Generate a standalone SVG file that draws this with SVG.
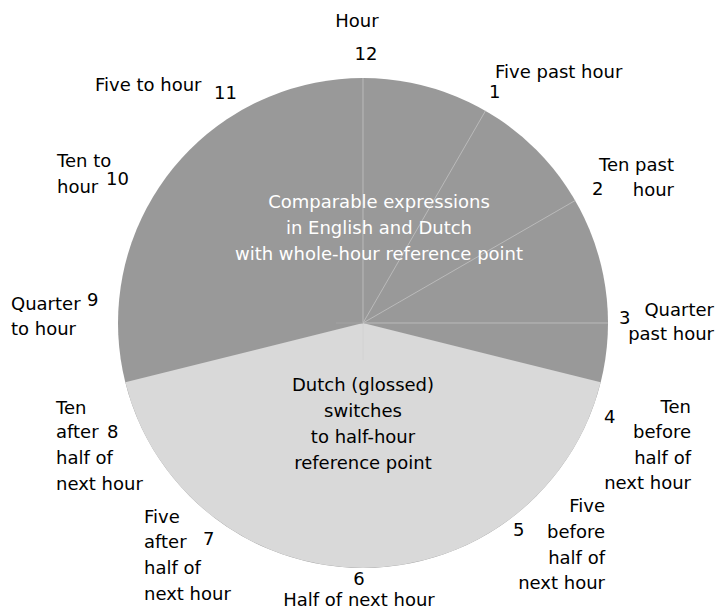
<svg xmlns="http://www.w3.org/2000/svg" width="717" height="610" viewBox="0 0 717 610">
<style>
text{font-family:"DejaVu Sans","Liberation Sans",sans-serif;font-size:18px;fill:#000}
.c{text-anchor:middle}
.r{text-anchor:end}
.w{fill:#ffffff}
.sep{stroke:#bababa;stroke-width:1;fill:none}
</style>
<rect width="717" height="610" fill="#ffffff"/>
<g id="dial">
<circle cx="363" cy="323" r="245" fill="#999999"/>
<path d="M363,323 L600.7,382.3 A245,245 0 0,1 125.3,382.3 Z" fill="#d9d9d9"/>
</g>
<g id="connectors">
<line class="sep" x1="363" y1="323" x2="363" y2="78"/>
<line class="sep" x1="363" y1="323" x2="485.5" y2="110.8"/>
<line class="sep" x1="363" y1="323" x2="575.2" y2="200.5"/>
<line class="sep" x1="363" y1="323" x2="608" y2="323"/>
<line x1="363" y1="323" x2="363" y2="360" stroke="#d2d2d2" stroke-width="1"/>
<line x1="336" y1="323" x2="363" y2="323" stroke="#a3a3a3" stroke-width="1"/>
</g>
<g id="center-upper">
<text class="c w" x="379" y="208">Comparable expressions</text>
<text class="c w" x="379" y="234">in English and Dutch</text>
<text class="c w" x="379" y="260">with whole-hour reference point</text>
</g>
<g id="center-lower">
<text class="c" x="363" y="391">Dutch (glossed)</text>
<text class="c" x="363" y="417">switches</text>
<text class="c" x="363" y="443">to half-hour</text>
<text class="c" x="363" y="469">reference point</text>
</g>
<g id="h12">
<text class="c" x="357" y="27">Hour</text>
<text class="c" x="366" y="60">12</text>
</g>
<g id="h1">
<text x="495" y="78">Five past hour</text>
<text x="489" y="98">1</text>
</g>
<g id="h2">
<text class="r" x="674" y="171">Ten past</text>
<text x="592" y="195">2</text>
<text class="r" x="674" y="196">hour</text>
</g>
<g id="h3">
<text x="619" y="324">3</text>
<text class="r" x="714" y="316">Quarter</text>
<text class="r" x="714" y="340">past hour</text>
</g>
<g id="h4">
<text x="604" y="423">4</text>
<text class="r" x="691" y="413">Ten</text>
<text class="r" x="691" y="438">before</text>
<text class="r" x="691" y="464">half of</text>
<text class="r" x="691" y="489">next hour</text>
</g>
<g id="h5">
<text x="513" y="536">5</text>
<text class="r" x="605" y="512">Five</text>
<text class="r" x="605" y="538">before</text>
<text class="r" x="605" y="564">half of</text>
<text class="r" x="605" y="589">next hour</text>
</g>
<g id="h6">
<text class="c" x="359" y="585">6</text>
<text class="c" x="359" y="606">Half of next hour</text>
</g>
<g id="h7">
<text x="144" y="523">Five</text>
<text x="144" y="548">after</text>
<text x="203" y="545">7</text>
<text x="144" y="574">half of</text>
<text x="144" y="600">next hour</text>
</g>
<g id="h8">
<text x="56" y="414">Ten</text>
<text x="56" y="438">after</text>
<text x="107" y="438">8</text>
<text x="56" y="464">half of</text>
<text x="56" y="490">next hour</text>
</g>
<g id="h9">
<text x="11" y="310">Quarter</text>
<text x="87" y="306">9</text>
<text x="11" y="335">to hour</text>
</g>
<g id="h10">
<text x="57" y="167">Ten to</text>
<text x="57" y="193">hour</text>
<text x="106" y="185">10</text>
</g>
<g id="h11">
<text x="95" y="91">Five to hour</text>
<text x="214" y="99">11</text>
</g>
</svg>
